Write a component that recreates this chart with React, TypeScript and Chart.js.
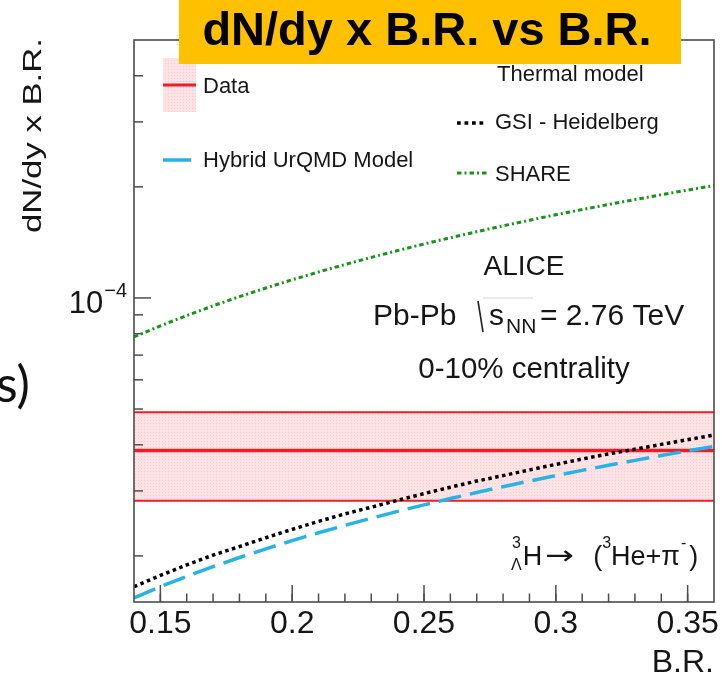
import React, { useEffect, useRef } from "react";
import { Chart, registerables } from "chart.js";

Chart.register(...registerables);

// ---------- data ----------
const BR = [0.14, 0.15, 0.16, 0.17, 0.18, 0.19, 0.2, 0.21, 0.22, 0.23, 0.24, 0.25, 0.26, 0.27, 0.28, 0.29, 0.3, 0.31, 0.32, 0.33, 0.34, 0.35, 0.36];
const GSI_HEIDELBERG = [1.65e-5, 1.77e-5, 1.89e-5, 2.01e-5, 2.12e-5, 2.24e-5, 2.36e-5, 2.48e-5, 2.6e-5, 2.71e-5, 2.83e-5, 2.95e-5, 3.07e-5, 3.19e-5, 3.3e-5, 3.42e-5, 3.54e-5, 3.66e-5, 3.78e-5, 3.89e-5, 4.01e-5, 4.13e-5, 4.25e-5];
const HYBRID_URQMD = [1.54e-5, 1.65e-5, 1.76e-5, 1.87e-5, 1.98e-5, 2.09e-5, 2.2e-5, 2.31e-5, 2.42e-5, 2.53e-5, 2.64e-5, 2.75e-5, 2.86e-5, 2.97e-5, 3.08e-5, 3.19e-5, 3.3e-5, 3.41e-5, 3.52e-5, 3.63e-5, 3.74e-5, 3.85e-5, 3.96e-5];
const SHARE = [7.84e-5, 8.4e-5, 8.96e-5, 9.52e-5, 1.008e-4, 1.064e-4, 1.12e-4, 1.176e-4, 1.232e-4, 1.288e-4, 1.344e-4, 1.4e-4, 1.456e-4, 1.512e-4, 1.568e-4, 1.624e-4, 1.68e-4, 1.736e-4, 1.792e-4, 1.848e-4, 1.904e-4, 1.96e-4, 2.016e-4];
const DATA_BR = [0.14, 0.36];
const DATA_CENTRAL = [3.86e-5, 3.86e-5];
const DATA_HIGH = [4.9e-5, 4.9e-5];
const DATA_LOW = [2.82e-5, 2.82e-5];

const X_MIN = 0.14;
const X_MAX = 0.36;
const Y_MIN = 1.5e-5;
const Y_MAX = 5e-4;
const X_MAJOR_TICKS = [0.15, 0.2, 0.25, 0.3, 0.35];
const X_TICK_LABELS = ["0.15", "0.2", "0.25", "0.3", "0.35"];
const X_MINOR_TICKS = [0.15, 0.16, 0.17, 0.18, 0.19, 0.2, 0.21, 0.22, 0.23, 0.24, 0.25, 0.26, 0.27, 0.28, 0.29, 0.3, 0.31, 0.32, 0.33, 0.34, 0.35];
const Y_MAJOR_TICKS = [1e-4];
const Y_TICK_LABELS = [{ base: "10", exp: "\u22124" }];
const Y_MINOR_TICKS = [2e-5, 3e-5, 4e-5, 5e-5, 6e-5, 7e-5, 8e-5, 9e-5, 2e-4, 3e-4, 4e-4];

const TITLE = "dN/dy x B.R. vs B.R.";
const Y_TITLE = "dN/dy x B.R.";
const X_TITLE = "B.R.";

// ---------- styles ----------
const SANS = '"Liberation Sans", Arial, Helvetica, sans-serif';
const F = (size: number, weight = "") => `${weight} ${size}px ${SANS}`.trim();
const TEXT = "#161616";
const RED = "#ee1c24";
const BLUE = "#27b3e6";
const GREEN = "#169616";
const FRAME = "#4d4d4d";

function makePattern(ctx: CanvasRenderingContext2D) {
  const c = document.createElement("canvas");
  c.width = 3;
  c.height = 3;
  const p = c.getContext("2d")!;
  p.fillStyle = "rgba(245,40,60,0.13)";
  p.fillRect(0, 0, 3, 3);
  p.fillStyle = "rgba(240,40,60,0.14)";
  p.fillRect(0, 0, 1, 1);
  return ctx.createPattern(c, "repeat")!;
}

function line(ctx: CanvasRenderingContext2D, x1: number, y1: number, x2: number, y2: number) {
  ctx.beginPath();
  ctx.moveTo(x1, y1);
  ctx.lineTo(x2, y2);
  ctx.stroke();
}

const decorPlugin = {
  id: "rootDecor",
  beforeDatasetsDraw(chart: any) {
    const { ctx, chartArea: a, scales } = chart;
    const x = scales.x;
    const y = scales.y;
    ctx.save();
    ctx.strokeStyle = FRAME;
    ctx.lineWidth = 1.5;
    X_MINOR_TICKS.forEach((v) => {
      const px = x.getPixelForValue(v);
      line(ctx, px, a.bottom, px, a.bottom - 8.5);
    });
    X_MAJOR_TICKS.forEach((v) => {
      const px = x.getPixelForValue(v);
      line(ctx, px, a.bottom, px, a.bottom - 17);
    });
    Y_MINOR_TICKS.forEach((v) => {
      const py = y.getPixelForValue(v);
      line(ctx, a.left, py, a.left + 9, py);
    });
    Y_MAJOR_TICKS.forEach((v) => {
      const py = y.getPixelForValue(v);
      line(ctx, a.left, py, a.left + 17, py);
    });
    ctx.restore();
  },
  afterDatasetsDraw(chart: any) {
    const { ctx, chartArea: a, scales } = chart;
    const x = scales.x;
    const y = scales.y;
    const pattern = chart.$bandPattern;
    ctx.save();

    // frame
    ctx.strokeStyle = FRAME;
    ctx.lineWidth = 1.6;
    ctx.strokeRect(a.left, a.top, a.right - a.left, a.bottom - a.top);

    ctx.fillStyle = TEXT;
    ctx.textBaseline = "alphabetic";

    // x tick labels
    ctx.font = F(32);
    ctx.textAlign = "center";
    X_MAJOR_TICKS.forEach((v, i) => {
      ctx.fillText(X_TICK_LABELS[i], x.getPixelForValue(v), 633);
    });
    // x title
    ctx.textAlign = "right";
    ctx.fillText(X_TITLE, a.right, 672);

    // y tick labels (10^-4)
    Y_MAJOR_TICKS.forEach((v, i) => {
      const py = y.getPixelForValue(v);
      ctx.font = F(20);
      ctx.textAlign = "right";
      const expW = ctx.measureText(Y_TICK_LABELS[i].exp).width;
      const expRight = a.left - 7;
      ctx.fillText(Y_TICK_LABELS[i].exp, expRight, py - 1);
      ctx.font = F(31);
      ctx.fillText(Y_TICK_LABELS[i].base, expRight - expW - 1, py + 15);
    });

    // y title, rotated and stretched along its baseline
    ctx.save();
    ctx.font = F(25);
    const natW = ctx.measureText(Y_TITLE).width;
    const targetW = 195;
    ctx.translate(40.5, 233);
    ctx.rotate(-Math.PI / 2);
    ctx.scale(targetW / natW, 1);
    ctx.textAlign = "left";
    ctx.fillText(Y_TITLE, 0, 0);
    ctx.restore();

    // legend (left block)
    ctx.fillStyle = pattern;
    ctx.fillRect(163, 58, 33, 54);
    ctx.strokeStyle = RED;
    ctx.lineWidth = 3;
    line(ctx, 163, 85, 196, 85);
    ctx.strokeStyle = BLUE;
    ctx.lineWidth = 3.5;
    line(ctx, 163, 160, 191, 160);
    ctx.fillStyle = TEXT;
    ctx.font = F(22);
    ctx.textAlign = "left";
    ctx.fillText(chart.data.datasets[3].label, 203, 93);
    ctx.fillText(chart.data.datasets[1].label, 203, 167);

    // legend (thermal models)
    ctx.fillText("Thermal model", 497, 81);
    ctx.fillText(chart.data.datasets[0].label, 495, 128.5);
    ctx.fillText(chart.data.datasets[2].label, 495, 180.5);
    ctx.strokeStyle = "#000";
    ctx.lineWidth = 3.5;
    ctx.setLineDash([3.75, 3.75]);
    line(ctx, 457, 123, 487, 123);
    ctx.strokeStyle = GREEN;
    ctx.lineWidth = 3;
    ctx.setLineDash([4.5, 3, 2, 3]);
    line(ctx, 457, 173, 487, 173);
    ctx.setLineDash([]);

    // ALICE block
    ctx.fillStyle = TEXT;
    ctx.textAlign = "center";
    ctx.font = F(28);
    ctx.fillText("ALICE", 524, 275);
    ctx.font = F(29.5);
    ctx.fillText("0-10% centrality", 524, 378);

    ctx.textAlign = "left";
    ctx.font = F(30);
    ctx.fillText("Pb-Pb", 373, 325);
    ctx.strokeStyle = "#222";
    ctx.lineWidth = 1.6;
    line(ctx, 478, 301, 483, 332);
    ctx.strokeStyle = "#d4d4d4";
    ctx.lineWidth = 1;
    line(ctx, 483, 298, 533, 298);
    ctx.fillText("s", 489, 325);
    ctx.font = F(21);
    ctx.fillText("NN", 506, 333);
    ctx.font = F(30);
    ctx.fillText("= 2.76 TeV", 540, 325);

    // decay channel
    const base = 565;
    let cx = 511;
    ctx.font = F(16);
    ctx.fillText("3", cx + 1, base - 17);
    ctx.fillText("\u039B", cx, base + 5);
    cx += ctx.measureText("\u039B").width + 1;
    ctx.font = F(27);
    ctx.fillText("H", cx, base);
    cx += ctx.measureText("H").width + 3;
    // arrow, drawn with a wider glyph and stretched to its width in the reference
    ctx.save();
    ctx.font = `26px "DejaVu Sans", sans-serif`;
    const arrowW = ctx.measureText("\u2192").width;
    ctx.translate(cx, base - 1);
    ctx.scale(29 / arrowW, 1);
    ctx.fillText("\u2192", 0, 0);
    ctx.restore();
    cx += 29 + 19;
    ctx.font = F(27);
    ctx.fillText("(", cx, base);
    cx += ctx.measureText("(").width;
    ctx.font = F(16);
    ctx.fillText("3", cx, base - 17);
    cx += ctx.measureText("3").width;
    ctx.font = F(27);
    ctx.fillText("He+\u03C0", cx, base);
    cx += ctx.measureText("He+\u03C0").width + 1;
    ctx.font = F(16);
    ctx.fillText("-", cx, base - 17);
    cx += ctx.measureText("-").width + 3;
    ctx.font = F(27);
    ctx.fillText(")", cx, base);

    // cut-off text at the left
    ctx.font = `50px Lato, "Noto Sans", sans-serif`;
    ctx.fillStyle = "#111";
    ctx.fillText("s)", -4, 402);

    // title box
    ctx.fillStyle = "#FFC000";
    ctx.fillRect(179, 0, 502, 64);
    ctx.fillStyle = "#000";
    ctx.font = F(47, "bold");
    ctx.textAlign = "center";
    ctx.fillText(TITLE, 427, 45);

    ctx.restore();
  },
};

export default function App() {
  const ref = useRef<HTMLCanvasElement | null>(null);
  useEffect(() => {
    const canvas = ref.current!;
    const ctx = canvas.getContext("2d")!;
    const pattern = makePattern(ctx);
    const pts = (ys: number[], xs: number[] = BR) => xs.map((xv, i) => ({ x: xv, y: ys[i] }));
    const chart = new Chart(canvas, {
      type: "line",
      data: {
        datasets: [
          {
            label: "GSI - Heidelberg",
            data: pts(GSI_HEIDELBERG),
            borderColor: "#000",
            borderWidth: 3.5,
            borderDash: [3.5, 3.5],
            pointRadius: 0,
            fill: false,
            tension: 0,
          },
          {
            label: "Hybrid UrQMD Model",
            data: pts(HYBRID_URQMD),
            borderColor: BLUE,
            borderWidth: 3.5,
            borderDash: [23, 9],
            pointRadius: 0,
            fill: false,
            tension: 0,
          },
          {
            label: "SHARE",
            data: pts(SHARE),
            borderColor: GREEN,
            borderWidth: 3,
            borderDash: [4.5, 3, 2, 3],
            pointRadius: 0,
            fill: false,
            tension: 0,
          },
          {
            label: "Data",
            data: pts(DATA_CENTRAL, DATA_BR),
            borderColor: RED,
            borderWidth: 3.5,
            pointRadius: 0,
            fill: false,
          },
          {
            label: "Data upper",
            data: pts(DATA_HIGH, DATA_BR),
            borderColor: RED,
            borderWidth: 2,
            pointRadius: 0,
            backgroundColor: pattern as any,
            fill: "+1",
          },
          {
            label: "Data lower",
            data: pts(DATA_LOW, DATA_BR),
            borderColor: RED,
            borderWidth: 2,
            pointRadius: 0,
            fill: false,
          },
        ],
      },
      options: {
        animation: false,
        responsive: false,
        devicePixelRatio: 1,
        layout: { padding: { left: 134, right: 8, top: 40, bottom: 83 } },
        scales: {
          x: { type: "linear", min: X_MIN, max: X_MAX, display: false },
          y: { type: "logarithmic", min: Y_MIN, max: Y_MAX, display: false },
        },
        plugins: {
          legend: { display: false },
          tooltip: { enabled: false },
          title: { display: false },
        },
      },
      plugins: [decorPlugin],
    });
    (chart as any).$bandPattern = pattern;
    chart.draw();
    return () => chart.destroy();
  }, []);

  return (
    <div style={{ position: "fixed", left: 0, top: 0, width: 722, height: 685, background: "#fff" }}>
      <canvas ref={ref} width={722} height={685} style={{ display: "block", width: 722, height: 685 }} />
    </div>
  );
}
